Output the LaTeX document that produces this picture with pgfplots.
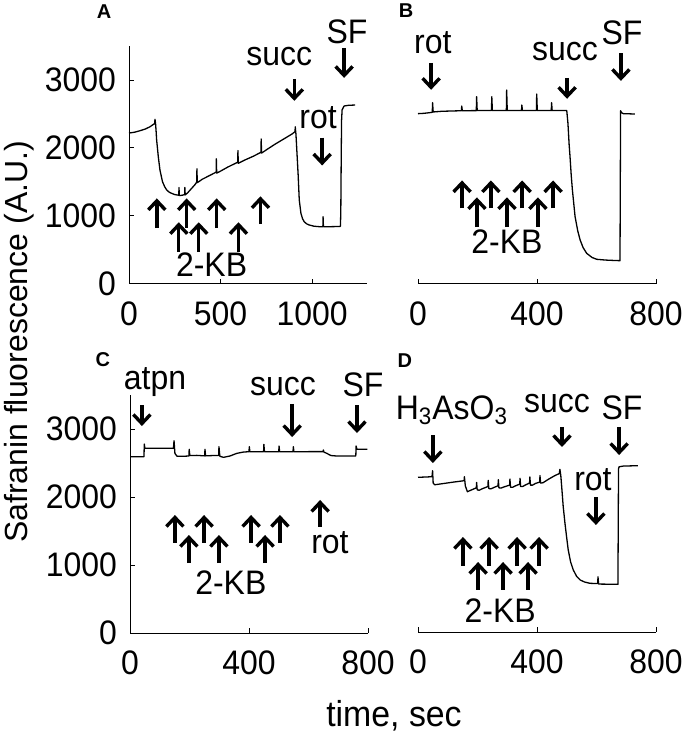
\documentclass[border=0pt]{standalone}
\usepackage{fontspec}
\setmainfont{Liberation Sans}
\newfontfamily\lab[FakeStretch=0.94]{Liberation Sans}
\usepackage{pgfplots}
\pgfplotsset{compat=1.18}
\usetikzlibrary{arrows.meta}

\pgfplotsset{
  panel/.style={
    scale only axis, width=119bp, height=119bp, anchor=south west,
    axis x line=bottom, axis y line=left,
    axis line style={-, line width=0.5bp},
    xmin=0, ymin=0, ymax=3500,
    tick align=inside, major tick length=2.5bp,
    tick style={line width=0.5bp, black},
    ytick={0,1000,2000,3000}, yticklabels={0,1000,2000,3000},
    tick label style={font=\fontsize{17bp}{17bp}\lab},
    yticklabel style={xshift=-3bp},
    xticklabel style={yshift=-5.5bp},
    clip=false,
  },
  noy/.style={axis y line=none, ytick=\empty},
}
\tikzset{
  arr/.style={line width=1.7bp, -{Straight Barb[length=4.5bp,width=8.5bp]}},
  ann/.style={font=\fontsize{17bp}{17bp}\lab, anchor=base, inner sep=0pt},
  plet/.style={font=\fontsize{10bp}{10bp}\bfseries, anchor=base, inner sep=0pt},
  trace/.style={black, line width=0.65bp, line join=round, no marks},
}
% arrows: #1 = time, #2 = tail, #3 = tip
\newcommand\uparr[3]{\draw[arr] (axis cs:#1,#2) -- (axis cs:#1,#3);}

\begin{document}
\begin{tikzpicture}
\path[use as bounding box] (0,0) rectangle (342.5bp,371.5bp);

% ---------- A ----------
\begin{axis}[panel, at={(64.5bp,229.5bp)}, xmax=1300,
  xtick={0,500,1000}, xticklabels={0,500,1000}]
\addplot[trace] coordinates {
 (0,2220) (30,2232) (60,2254) (90,2280) (115,2313) (140,2360) (142,2422)
 (145,2360) (148,2250) (151,2117) (160,1872) (169,1676) (183,1504) (195,1430)
 (206,1382) (220,1350) (233,1333) (250,1315) (272,1305) (273,1420) (275,1300)
 (290,1305) (304,1315) (305,1420) (307,1310) (320,1340) (340,1400) (360,1460)
 (370,1500) (371,1694) (373,1490) (400,1540) (440,1595) (476,1645) (477,1841)
 (479,1630) (500,1660) (540,1720) (594,1791) (595,1962) (597,1775) (630,1820)
 (680,1880) (721,1937) (722,2133) (724,1925) (760,1990) (800,2060) (850,2140)
 (890,2205) (907,2240) (908,2313) (912,2200) (918,1900) (924,1600) (930,1235)
 (939,1040) (948,960) (957,916) (970,885) (984,868) (1010,850) (1039,843)
 (1059,843) (1060,990) (1062,843) (1100,843) (1140,845) (1155,848) (1157,1100)
 (1159,1800) (1161,2400) (1164,2560) (1175,2618) (1200,2628) (1235,2632)
};
\node[plet] at (axis cs:-136,3910) {A};
\node[ann] at (axis cs:821,3207) {succ};
\node[ann] at (axis cs:1191,3544) {SF};
\node[ann] at (axis cs:1033,2284) {rot};
\node[ann] at (axis cs:451,103) {2-KB};
\uparr{903}{3017}{2694}
\uparr{1175}{3471}{3031}
\uparr{1055}{2153}{1743}
\pgfplotsinvokeforeach{152,315,479}{\uparr{#1}{820}{1259}}
\uparr{718}{879}{1289}
\pgfplotsinvokeforeach{272,381,598}{\uparr{#1}{469}{908}}
\end{axis}

% ---------- B ----------
\begin{axis}[panel, noy, at={(209bp,229.5bp)}, xmax=800,
  xtick={0,400,800}, xticklabels={0,400,800}]
\addplot[trace] coordinates {
 (0,2505) (20,2510) (40,2520) (48,2525) (49,2667) (51,2530) (80,2540)
 (120,2545) (146,2548) (147,2618) (149,2548) (196,2550) (197,2755) (199,2550)
 (247,2550) (248,2755) (250,2550) (297,2550) (298,2853) (300,2550) (348,2550)
 (349,2632) (351,2550) (398,2550) (399,2794) (401,2550) (448,2550) (449,2667)
 (451,2550) (500,2550) (504,2363) (508,2050) (511,1872) (515,1600) (519,1382)
 (528,990) (537,780) (545,647) (555,535) (567,451) (585,390) (601,363)
 (630,352) (660,346) (679,343) (680,1500) (681,2549) (684,2520) (690,2505)
 (729,2500)
};
\node[plet] at (axis cs:-40,3925) {B};
\node[ann] at (axis cs:50,3383) {rot};
\node[ann] at (axis cs:494,3280) {succ};
\node[ann] at (axis cs:686,3529) {SF};
\node[ann] at (axis cs:299,454) {2-KB};
\uparr{44}{3251}{2856}
\uparr{501}{3031}{2724}
\uparr{682}{3397}{2987}
\pgfplotsinvokeforeach{148,245,350,454}{\uparr{#1}{1113}{1523}}
\pgfplotsinvokeforeach{198,299,403}{\uparr{#1}{835}{1274}}
\end{axis}

% ---------- C ----------
\begin{axis}[panel, at={(65bp,55bp)}, xmax=800,
  xtick={0,400,800}, xticklabels={0,400,800}]
\addplot[trace] coordinates {
 (0,2593) (47,2593) (48,2779) (50,2716) (100,2716) (146,2716) (148,2828)
 (151,2640) (158,2600) (175,2598) (198,2603) (199,2701) (201,2610) (225,2612)
 (251,2605) (252,2701) (254,2605) (280,2610) (298,2612) (299,2740) (302,2600)
 (314,2583) (336,2603) (359,2642) (380,2660) (400,2667) (401,2740) (403,2665)
 (449,2667) (450,2775) (452,2665) (500,2667) (501,2750) (503,2665) (548,2667)
 (549,2740) (551,2665) (600,2667) (649,2667) (650,2691) (652,2660) (661,2643)
 (675,2610) (694,2603) (751,2603) (759,2603) (760,2750) (763,2701) (798,2701)
};
\node[plet] at (axis cs:-91,3912) {C};
\node[ann] at (axis cs:84,3574) {atpn};
\node[ann] at (axis cs:514,3500) {succ};
\node[ann] at (axis cs:783,3471) {SF};
\node[ann] at (axis cs:672,1176) {rot};
\node[ann] at (axis cs:339,559) {2-KB};
\uparr{40}{3353}{3044}
\uparr{545}{3368}{2882}
\uparr{763}{3353}{2941}
\uparr{639}{1559}{1956}
\pgfplotsinvokeforeach{151,249,407,504}{\uparr{#1}{1324}{1735}}
\pgfplotsinvokeforeach{198,299,454}{\uparr{#1}{1029}{1441}}
\end{axis}

% ---------- D ----------
\begin{axis}[panel, noy, at={(209bp,55.5bp)}, xmax=800,
  xtick={0,400,800}, xticklabels={0,400,800}]
\addplot[trace] coordinates {
 (0,2275) (30,2280) (47,2284) (49,2372) (51,2190) (56,2165) (80,2180)
 (120,2205) (150,2222) (155,2228) (156,2284) (159,2150) (166,2063) (180,2090)
 (196,2120) (197,2200) (199,2090) (206,2085) (215,2105) (235,2140) (236,2230)
 (238,2110) (245,2105) (255,2125) (269,2150) (270,2240) (272,2120) (280,2118)
 (290,2135) (308,2160) (309,2250) (311,2130) (318,2128) (328,2150) (342,2175)
 (343,2260) (345,2140) (352,2140) (362,2165) (375,2190) (376,2280) (378,2160)
 (385,2160) (395,2185) (409,2205) (410,2300) (412,2190) (420,2195) (440,2250)
 (460,2300) (475,2330) (477,2392) (480,2300) (483,2137) (488,1850) (494,1598)
 (500,1380) (505,1206) (513,1030) (522,912) (533,820) (545,765) (560,735)
 (578,716) (604,712) (605,813) (607,705) (640,703) (672,701) (673,1500)
 (674,2400) (676,2430) (690,2440) (739,2446)
};
\node[plet] at (axis cs:-44,3897) {D};
\node[ann] at (axis cs:114,3132) {H\textsubscript{3}AsO\textsubscript{3}};
\node[ann] at (axis cs:467,3221) {succ};
\node[ann] at (axis cs:686,3118) {SF};
\node[ann] at (axis cs:588,2088) {rot};
\node[ann] at (axis cs:276,147) {2-KB};
\uparr{50}{2897}{2485}
\uparr{484}{3015}{2721}
\uparr{676}{3015}{2603}
\uparr{598}{1985}{1574}
\pgfplotsinvokeforeach{151,239,333,407}{\uparr{#1}{971}{1397}}
\pgfplotsinvokeforeach{202,286,370}{\uparr{#1}{618}{1029}}
\end{axis}

\node[rotate=90, anchor=base, inner sep=0pt, font=\fontsize{16bp}{16bp}\selectfont]
  at (13.5bp,200.5bp) {Safranin fluorescence (A.U.)};
\node[anchor=base, inner sep=0pt, font=\fontsize{18bp}{18bp}\lab]
  at (197bp,8.5bp) {time, sec};
\end{tikzpicture}
\end{document}
